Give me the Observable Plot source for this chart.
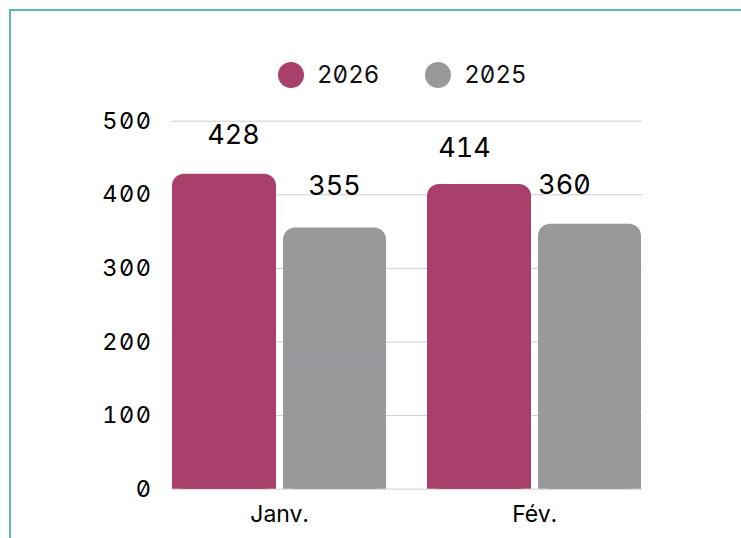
<!DOCTYPE html>
<html>
<head>
<meta charset="utf-8">
<script src="https://cdn.jsdelivr.net/npm/d3@7"></script>
<script src="https://cdn.jsdelivr.net/npm/@observablehq/plot@0.6"></script>
<style>
  html, body { margin: 0; padding: 0; background: #fff; overflow: hidden; }
  body { width: 741px; height: 538px; position: relative; font-family: Inter, "Noto Sans", sans-serif; font-feature-settings: "zero" 1, "tnum" 1; }
  #frame { position: absolute; left: 9px; top: 9px; width: 900px; height: 700px; border-left: 2.5px solid #5cb8ad; border-top: 2.5px solid #5cb8ad; }
  #chart { position: absolute; left: 0; top: 0; }
  #legend { position: absolute; top: 60px; left: 278px; display: flex; align-items: center; font-size: 24px; color: #111; }
  .item { display: flex; align-items: center; margin-right: 46px; }
  .sw { width: 26px; height: 26px; border-radius: 50%; margin-right: 13px; }
  svg text { font-feature-settings: "zero" 1, "tnum" 1; }
  .yax text { letter-spacing: 1.5px; }
</style>
</head>
<body>
<div id="frame"></div>
<div id="chart"></div>
<div id="legend"></div>
<script>
const months = ["Janv.", "Fév."];
const years = ["2026", "2025"];
const values2026 = [428, 414];
const values2025 = [355, 360];
const yTicks = [0, 100, 200, 300, 400, 500];
const colors = ["#a8406b", "#98999b"];

const rows2026 = months.map((m, i) => ({month: m, year: years[0], value: values2026[i]}));
const rows2025 = months.map((m, i) => ({month: m, year: years[1], value: values2025[i]}));

// per-label nudges (style), as in the reference
const labelMarks = [
  [rows2026[0], -46, -39], [rows2025[0], 55, -42], [rows2026[1], -70, -36], [rows2025[1], 30, -39]
].map(([d, dx, dy]) => Plot.text([d], {x: "month", y: "value", text: d => String(d.value), dx, dy, fontSize: 27, fill: "#000"}));

const barStyle = (rows, color, inset) => [
  Plot.barY(rows, {x: "month", y: "value", fill: color, rx: 12, ...inset}),
  Plot.barY(rows, {x: "month", y1: 0, y2: d => d.value / 2, fill: color, ...inset})
];

const chart = Plot.plot({
  width: 741,
  height: 538,
  marginLeft: 171,
  marginRight: 99,
  marginTop: 120.7,
  marginBottom: 49.3,
  style: {fontFamily: "Inter, 'Noto Sans', sans-serif", background: "transparent"},
  x: {domain: months, paddingInner: 0.16, paddingOuter: 0, label: null},
  y: {domain: [0, 500], label: null},
  marks: [
    Plot.gridY(yTicks, {stroke: "#cfcfcf", strokeOpacity: 1, strokeWidth: 1}),
    ...barStyle(rows2026, colors[0], {insetRight: 110}),
    ...barStyle(rows2025, colors[1], {insetLeft: 111}),
    ...labelMarks,
    Plot.axisY(yTicks, {tickSize: 0, tickPadding: 19, fontSize: 23.5, fill: "#000", label: null, className: "yax"}),
    Plot.axisX({tickSize: 0, tickPadding: 16, fontSize: 23, fill: "#000", label: null})
  ]
});
document.getElementById("chart").appendChild(chart);

const legend = document.getElementById("legend");
years.forEach((y, i) => {
  const it = document.createElement("div");
  it.className = "item";
  const sw = document.createElement("span");
  sw.className = "sw";
  sw.style.background = colors[i];
  const t = document.createElement("span");
  t.textContent = y;
  it.appendChild(sw);
  it.appendChild(t);
  legend.appendChild(it);
});
</script>
</body>
</html>
